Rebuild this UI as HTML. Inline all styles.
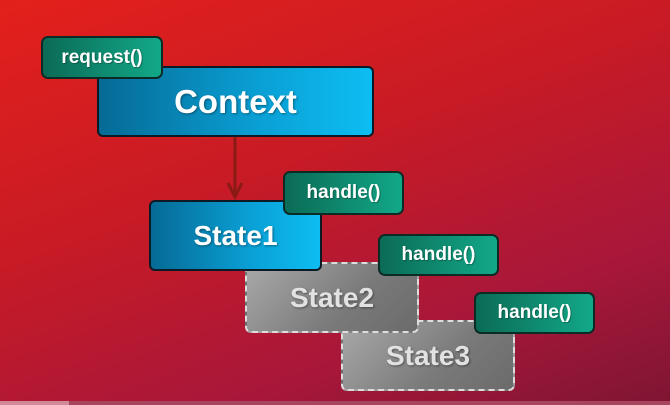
<!DOCTYPE html>
<html><head><meta charset="utf-8"><style>
*{margin:0;padding:0;box-sizing:border-box}
body{width:670px;height:405px;overflow:hidden;position:relative;font-family:"Liberation Sans",sans-serif;font-weight:bold;
background:linear-gradient(160deg,#e3201b 0%,#c81b25 40%,#a8173a 75%,#7e1532 100%);}
.b{position:absolute;display:flex;align-items:center;justify-content:center;color:#fff;border-radius:6px;}
.blue{background:linear-gradient(90deg,#066a95,#0aa1d6 60%,#0dbdf2);border:2px solid #0b1a24;text-shadow:1px 1px 2px rgba(0,0,0,.4)}
.grey{background:linear-gradient(135deg,#a9a9a9,#7a7a7a 60%,#6b6b6b);border:2px dashed #ddd;color:#e2e2e2;text-shadow:1px 1px 2px rgba(0,0,0,.4)}
.g{background:linear-gradient(90deg,#0b6b56,#12a888);border:2px solid #0c2b24;font-size:19px;border-radius:7px;text-shadow:1px 1px 1px rgba(0,0,0,.3)}
</style></head><body>
<div class="b blue" style="left:97px;top:66px;width:277px;height:71px;font-size:33px">Context</div>
<div class="b g" style="left:41px;top:36px;width:122px;height:43px">request()</div>
<svg style="position:absolute;left:0;top:0" width="670" height="405">
<line x1="235" y1="137" x2="235" y2="195" stroke="#8a1a14" stroke-width="3"/>
<polyline points="228,183 235,197 242,183" fill="none" stroke="#8a1a14" stroke-width="3"/>
</svg>
<div class="b grey" style="left:341px;top:320px;width:174px;height:71px;font-size:28px">State3</div>
<div class="b grey" style="left:245px;top:262px;width:174px;height:71px;font-size:28px">State2</div>
<div class="b blue" style="left:149px;top:200px;width:173px;height:71px;font-size:28px">State1</div>
<div class="b g" style="left:283px;top:171px;width:121px;height:44px">handle()</div>
<div class="b g" style="left:378px;top:234px;width:121px;height:42px">handle()</div>
<div class="b g" style="left:474px;top:292px;width:121px;height:42px">handle()</div>
<div style="position:absolute;left:0;top:401px;width:670px;height:4px;background:#a8455e"></div>
<div style="position:absolute;left:0;top:401px;width:69px;height:4px;background:#d08a98"></div>
</body></html>
